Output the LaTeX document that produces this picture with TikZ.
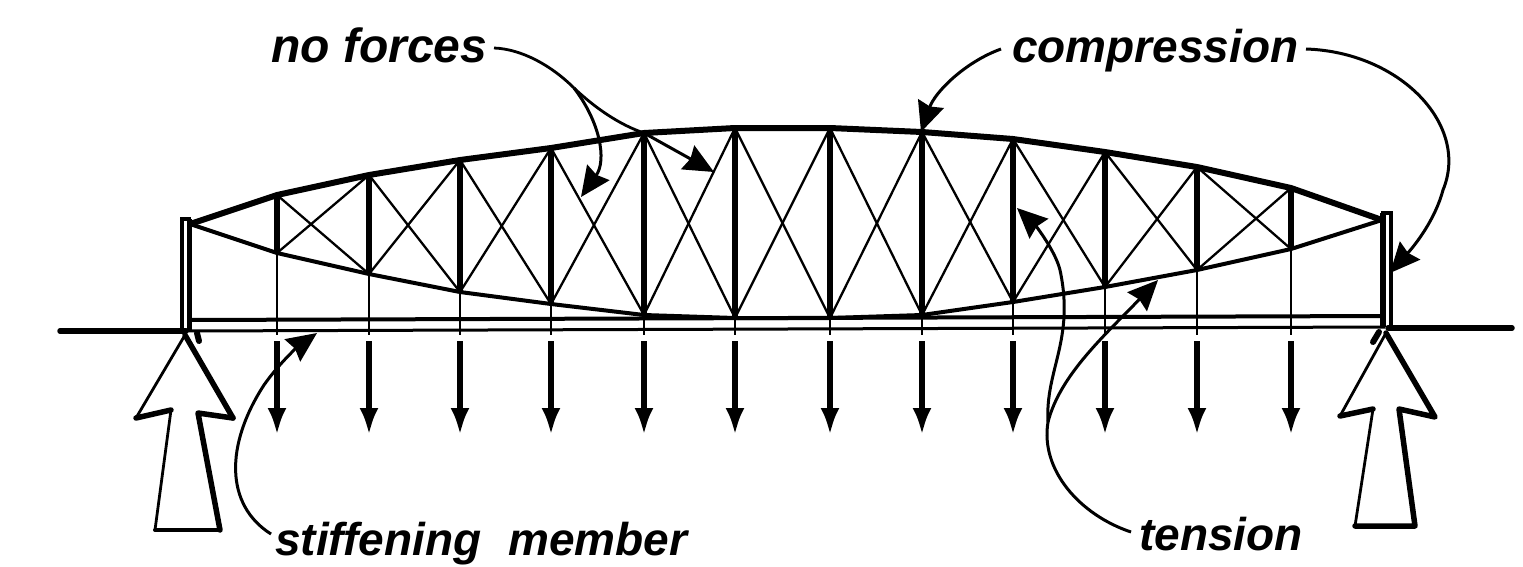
\documentclass[tikz,border=0pt]{standalone}
\usepackage{fontspec}
\setmainfont{Liberation Sans}
\usetikzlibrary{arrows.meta}
\tikzset{
  lbl/.style={inner sep=0pt,anchor=base west,font=\fontsize{46}{46}\selectfont\bfseries\itshape},
  chordtop/.style={line width=6pt,line join=round},
  chordbot/.style={line width=4pt,line join=round},
  post/.style={line width=6pt},
  diag/.style={line width=2.3pt},
  hanger/.style={line width=2.4pt},
  thinrail/.style={line width=3pt},
  ground/.style={line width=5.5pt,line cap=round},
  load/.style={line width=5.5pt,-{Latex[length=27pt,width=19pt]}},
  leader/.style={line width=2.8pt},
  leaderarrow/.style={line width=3pt,-{Stealth[length=30pt,width=27pt,inset=3pt]}},
  bigthin/.style={line width=2.8pt,line join=round,line cap=round},
  bigthick/.style={line width=5.5pt,line join=round,line cap=round}
}
\begin{document}
\begin{tikzpicture}[x=1pt,y=-1pt]
\useasboundingbox (0,0) rectangle (1523,566);
% joints
\foreach \n/\x/\t/\b in {1/277/195/253,2/369/175/274,3/460/160/292,4/551/148/304,5/644/133/315,6/735/128/318,7/830/128/318,8/922/132/315,9/1013/139/302,10/1105/152/287,11/1197/167/270,12/1291/188/249}{
  \coordinate (T\n) at (\x,\t);
  \coordinate (B\n) at (\x,\b);
  \coordinate (H\n) at (\x,335);
  \coordinate (S\n) at (\x,341);
  \coordinate (E\n) at (\x,435);
}
\coordinate (LA) at (190,224);
\coordinate (RA) at (1382,220);
% posts at the ends
\draw[line width=4.5pt] (182,219) -- (182,331);
\draw[line width=4.5pt] (189.5,219) -- (189.5,331);
\draw[line width=4pt] (180,219) -- (191,219);
\draw[line width=5.5pt] (1383,213) -- (1383,327);
\draw[line width=4pt] (1391,213) -- (1391,327);
\draw[line width=4pt] (1381,213) -- (1393,213);
% chords
\draw[chordtop] (LA) -- (T1) -- (T2) -- (T3) -- (T4) -- (T5) -- (T6) -- (T7) -- (T8) -- (T9) -- (T10) -- (T11) -- (T12) -- (RA);
\draw[chordbot] (LA) -- (B1) -- (B2) -- (B3) -- (B4) -- (B5) -- (B6) -- (B7) -- (B8) -- (B9) -- (B10) -- (B11) -- (B12) -- (RA);
% verticals, hangers and loads
\foreach \n in {1,...,12}{
  \draw[post] (T\n) -- (B\n);
  \draw[hanger] (B\n) -- (H\n);
  \draw[load] (S\n) -- (E\n);
}
% diagonals
\foreach \a/\b in {1/2,2/3,3/4,4/5,5/6,6/7,7/8,8/9,9/10,10/11,11/12}{
  \draw[diag] (T\a) -- (B\b);
  \draw[diag] (B\a) -- (T\b);
}
% stiffening member and deck
\draw[thinrail,line width=4pt] (189,320) -- (1382,316);
\draw[thinrail] (185,331) -- (1385,327);
\draw[ground] (60,331) -- (186,331);
\draw[ground] (1388,328) -- (1512,328);
\draw[line width=6pt,line cap=round] (197,333) -- (199,341);
\draw[line width=6pt,line cap=round] (1379,332) -- (1373,342);
% big reaction arrows
\draw[bigthin] (185,335) -- (136,418);
\draw[bigthick] (136,418) -- (171,410);
\draw[bigthin] (171,410) -- (155,530);
\draw[line width=4pt,line cap=round] (155,530) -- (220,530);
\draw[bigthick] (220,530) -- (198,413) -- (233,418);
\draw[bigthick] (233,418) -- (185,335);
\draw[bigthin] (1386,333) -- (1340,416);
\draw[bigthick] (1340,416) -- (1373,409);
\draw[bigthin] (1373,409) -- (1355,526);
\draw[bigthick] (1355,526) -- (1415,526) -- (1399,409) -- (1435,417) -- (1386,333);
% labels
\node[lbl,font=\fontsize{48}{48}\selectfont\bfseries\itshape] (nf) at (271,62) {no forces};
\node[lbl] (cp) at (1012,62) {compression};
\node[lbl] (sm) at (275,555) {stiffening\hspace{14pt} member};
\node[lbl] (tn) at (1139,550) {tension};
% leaders: no forces
\coordinate (nfS) at (494,48);
\coordinate (nfJ) at (574,88);
\coordinate (nfA) at (581,197);
\coordinate (nfB) at (714,172);
\draw[leader] (nfS) .. controls (522,49) and (552,66) .. (nfJ);
\draw[leader] (nfJ) .. controls (595,108) and (620,125) .. (T5);
\draw[leaderarrow] (nfJ) .. controls (600,122) and (607,160) .. (nfA);
\draw[leaderarrow] (T5) -- (nfB);
% leaders: compression
\coordinate (cpL) at (1001,49);
\coordinate (cpR) at (1306,49);
\coordinate (cpA) at (921,132);
\coordinate (cpB) at (1390,273);
\draw[leaderarrow] (cpL) .. controls (965,62) and (935,92) .. (cpA);
\draw[leaderarrow] (cpR) .. controls (1400,52) and (1470,125) .. (1443,190) .. controls (1435,220) and (1415,245) .. (cpB);
% leaders: tension
\coordinate (tnS) at (1131,532);
\coordinate (tnJ) at (1048,422);
\coordinate (tnA) at (1017,208);
\coordinate (tnB) at (1158,280);
\draw[leaderarrow] (tnS) .. controls (1080,515) and (1040,470) .. (tnJ) .. controls (1045,370) and (1075,340) .. (1060,270) .. controls (1055,250) and (1035,225) .. (tnA);
\draw[leaderarrow] (tnJ) .. controls (1060,375) and (1105,335) .. (tnB);
% leaders: stiffening member
\coordinate (smS) at (271,534);
\coordinate (smA) at (317,333);
\draw[leaderarrow] (smS) .. controls (225,505) and (225,445) .. (264,385) .. controls (280,362) and (300,345) .. (smA);
\end{tikzpicture}
\end{document}
